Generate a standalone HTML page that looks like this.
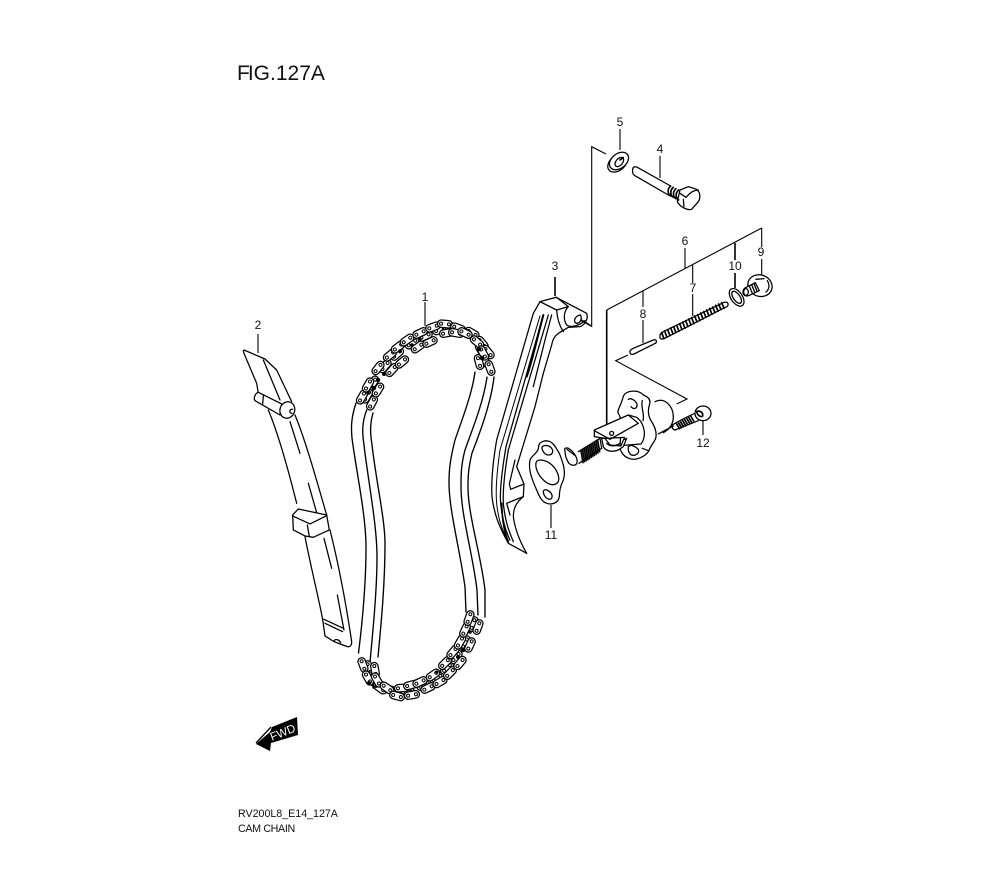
<!DOCTYPE html>
<html><head><meta charset="utf-8"><style>
html,body{margin:0;padding:0;background:#fff}
svg{display:block}
text{font-family:"Liberation Sans",sans-serif;fill:#111}
.l text{font-size:12px;text-anchor:middle}
.s{fill:none;stroke:#000;stroke-width:1.35;stroke-linecap:round;stroke-linejoin:round}
.z{fill:none;stroke:#000;stroke-width:3.8;stroke-linecap:round;stroke-linejoin:round}
.b{fill:#000}
</style></head><body>
<svg width="1000" height="880" viewBox="0 0 1000 880" xmlns="http://www.w3.org/2000/svg">
<defs>
<g id="k"><rect x="-7.5" y="-3.7" width="15" height="7.4" rx="3.7" fill="#fff" stroke="#000" stroke-width="1.25"/><circle cx="-4" cy="0" r="1.5" fill="#fff" stroke="#000" stroke-width="1"/><circle cx="4" cy="0" r="1.5" fill="#fff" stroke="#000" stroke-width="1"/></g>
</defs>
<rect width="1000" height="880" fill="#fff"/>

<text x="237" y="80" font-size="21"><tspan>F</tspan><tspan dx="-2">IG.127A</tspan></text>
<text x="238" y="817" font-size="10.7" letter-spacing="-.02">RV200L8_E14_127A</text>
<text x="238" y="832" font-size="10.7" letter-spacing="-.35">CAM CHAIN</text>

<!-- leaders -->
<g fill="none" stroke="#000" stroke-width="1.1">
<path d="M620 129V150M660 156V178M643 291V307M643 320V343M692.7 265V283M692.7 294V316M685 248V268M761.7 228V247M761.7 259V275M551 505V528M703 420V435M258 334V353M425 302V326"/>
<path d="M606.7 310L761.7 228M606 154L591.7 146.7V326.5L580 320"/>
<path d="M628 355L615.7 360.7L687 399L676.7 404"/>
<path stroke-width="1.6" d="M606.7 310V424M735 243V260M735 273V288M555 277V296"/>
</g>
<g class="l">
<text x="620" y="126">5</text><text x="660" y="153">4</text><text x="555" y="270">3</text>
<text x="685" y="245">6</text><text x="693" y="292">7</text><text x="643" y="318">8</text>
<text x="735" y="270">10</text><text x="761" y="256">9</text><text x="258" y="329">2</text>
<text x="425" y="301">1</text><text x="551" y="539">11</text><text x="703" y="447">12</text>
</g>

<!-- chain strands -->
<g class="s">
<path d="M356 403C351 418 351 428 352 438C356 470 366 515 366 547C366 585 362 625 358.5 653"/>
<path d="M366.7 410C362 422 362 432 364 445C368 480 377 525 377 557C377 590 373 630 370 662"/>
<path d="M373 413C370 424 370 432 372 445C376 480 385 520 385 543C385 585 381 625 378 657"/>
<path d="M475 372C472 395 460 425 455 440C450 460 449 470 449 483C449 510 460 550 465 587L466 612"/>
<path d="M487 377C483 405 470 435 465 450C461 465 461 475 461 487C461 515 473 555 477 590L478 615"/>
<path d="M494 377C491 405 477 440 472 453C468 470 468 478 468 487C468 515 481 555 485 590L485 617"/>
</g>

<!-- chain top -->
<g>
<use href="#k" transform="translate(367,396) rotate(-60)"/><use href="#k" transform="translate(373,383) rotate(-58)"/><use href="#k" transform="translate(385,366) rotate(-50)"/><use href="#k" transform="translate(397,354) rotate(-42)"/><use href="#k" transform="translate(412,343) rotate(-35)"/><use href="#k" transform="translate(425,336) rotate(-25)"/><use href="#k" transform="translate(440,330) rotate(-15)"/><use href="#k" transform="translate(451,329) rotate(5)"/><use href="#k" transform="translate(463,331) rotate(25)"/><use href="#k" transform="translate(474,337) rotate(38)"/><use href="#k" transform="translate(481,350) rotate(60)"/><use href="#k" transform="translate(485,360) rotate(68)"/>
<use href="#k" transform="translate(362,397) rotate(-60)"/><use href="#k" transform="translate(368,385) rotate(-60)"/><use href="#k" transform="translate(378,368) rotate(-52)"/><use href="#k" transform="translate(390,355) rotate(-40)"/><use href="#k" transform="translate(398,347) rotate(-38)"/><use href="#k" transform="translate(407,340) rotate(-35)"/><use href="#k" transform="translate(420,333) rotate(-25)"/><use href="#k" transform="translate(433,327) rotate(-20)"/><use href="#k" transform="translate(445,324) rotate(5)"/><use href="#k" transform="translate(458,328) rotate(20)"/><use href="#k" transform="translate(472,333) rotate(30)"/><use href="#k" transform="translate(482,343) rotate(50)"/><use href="#k" transform="translate(488,352) rotate(50)"/>
<use href="#k" transform="translate(372,403) rotate(-62)"/><use href="#k" transform="translate(378,390) rotate(-58)"/><use href="#k" transform="translate(392,370) rotate(-48)"/><use href="#k" transform="translate(402,362) rotate(-40)"/><use href="#k" transform="translate(418,347) rotate(-35)"/><use href="#k" transform="translate(430,342) rotate(-25)"/><use href="#k" transform="translate(447,333) rotate(-10)"/><use href="#k" transform="translate(456,333) rotate(10)"/><use href="#k" transform="translate(465,333) rotate(25)"/><use href="#k" transform="translate(477,342) rotate(40)"/><use href="#k" transform="translate(483,353) rotate(62)"/><use href="#k" transform="translate(479,362) rotate(75)"/><use href="#k" transform="translate(490,368) rotate(70)"/>
</g>
<g class="b">
<circle cx="378" cy="380" r="2.2"/><circle cx="384" cy="374" r="2"/><circle cx="374" cy="388" r="2.2"/><circle cx="400" cy="351" r="1.8"/><circle cx="412" cy="345" r="1.8"/><circle cx="479" cy="349" r="2.3"/><circle cx="482" cy="358" r="2.3"/><circle cx="368" cy="393" r="1.8"/><circle cx="420" cy="339" r="1.6"/>
</g>

<!-- chain bottom -->
<g>
<use href="#k" transform="translate(369,668) rotate(70)"/><use href="#k" transform="translate(372,679) rotate(60)"/><use href="#k" transform="translate(384,687) rotate(35)"/><use href="#k" transform="translate(394,691) rotate(20)"/><use href="#k" transform="translate(407,692) rotate(-5)"/><use href="#k" transform="translate(424,685) rotate(-25)"/><use href="#k" transform="translate(437,678) rotate(-32)"/><use href="#k" transform="translate(447,668) rotate(-45)"/><use href="#k" transform="translate(456,657) rotate(-50)"/><use href="#k" transform="translate(465,643) rotate(-62)"/><use href="#k" transform="translate(473,624) rotate(-70)"/>
<use href="#k" transform="translate(363,665) rotate(70)"/><use href="#k" transform="translate(368,678) rotate(60)"/><use href="#k" transform="translate(380,688) rotate(35)"/><use href="#k" transform="translate(402,688) rotate(-5)"/><use href="#k" transform="translate(411,685) rotate(-15)"/><use href="#k" transform="translate(420,682) rotate(-25)"/><use href="#k" transform="translate(433,675) rotate(-35)"/><use href="#k" transform="translate(445,663) rotate(-45)"/><use href="#k" transform="translate(453,652) rotate(-50)"/><use href="#k" transform="translate(460,642) rotate(-60)"/><use href="#k" transform="translate(465,630) rotate(-65)"/><use href="#k" transform="translate(469,618) rotate(-70)"/>
<use href="#k" transform="translate(375,670) rotate(80)"/><use href="#k" transform="translate(377,680) rotate(60)"/><use href="#k" transform="translate(387,688) rotate(35)"/><use href="#k" transform="translate(397,696) rotate(15)"/><use href="#k" transform="translate(412,695) rotate(-10)"/><use href="#k" transform="translate(428,688) rotate(-25)"/><use href="#k" transform="translate(440,682) rotate(-30)"/><use href="#k" transform="translate(450,673) rotate(-45)"/><use href="#k" transform="translate(460,663) rotate(-50)"/><use href="#k" transform="translate(470,645) rotate(-65)"/><use href="#k" transform="translate(478,627) rotate(-70)"/>
</g>
<g class="b">
<circle cx="369" cy="683" r="2"/><circle cx="374" cy="687" r="1.8"/><circle cx="463" cy="650" r="2.3"/><circle cx="458" cy="657" r="2"/><circle cx="470" cy="632" r="1.8"/><circle cx="437" cy="672" r="1.6"/>
</g>

<!-- guide 2 -->
<g transform="translate(230,330) scale(.3333)" class="z">
<path d="M42 60L105 87L140 120L185 215"/>
<path d="M40 62L42 70L80 160L85 190"/>
<path d="M100 90L150 210"/>
<path d="M115 240C140 300 170 400 200 520"/>
<path d="M180 275L210 370"/>
<path d="M195 255C230 340 265 470 290 555"/>
<path d="M235 460L262 555"/>
<path d="M300 600C320 680 345 800 365 935C366 945 360 952 352 950L312 935L285 918L278 868"/>
<path d="M225 620C240 700 265 800 278 868"/>
<path d="M282 625L305 715"/>
<path d="M322 795L342 900"/>
<path d="M282 868L340 895M285 880L338 905"/>
<path d="M312 932C318 925 328 930 332 938"/>
<path d="M188 555L205 537L290 555L298 600L250 622L225 618L190 600Z" style="fill:#fff"/>
<path d="M188 558L240 582L290 557M232 585L238 620"/>
<path d="M85 187L155 222L150 255L75 212C70 205 75 190 85 187Z" style="fill:#fff"/>
<path d="M100 197L98 222"/>
<ellipse cx="172" cy="240" rx="22" ry="25" transform="rotate(20 172 240)" style="fill:#fff"/>
<path d="M188 238C178 236 176 250 186 250"/>
</g>

<!-- guide 3 -->
<g transform="translate(480,290) scale(.3333)" class="z">
<path d="M228 22L180 35L160 70L50 450C38 520 33 570 36 620C42 670 55 705 85 760L140 790"/>
<path d="M228 22L320 70C326 85 315 105 300 110L265 112L235 130C222 140 218 150 215 165L190 250L165 350L110 530"/>
<path d="M190 75L78 470C68 530 58 600 62 640C66 680 75 720 90 750"/>
<path d="M205 75L85 480C75 540 68 600 70 640C75 690 85 720 100 755"/>
<path d="M180 78L60 480C50 550 46 600 50 640C54 680 62 710 80 745" stroke-width="3"/>
<path d="M190 75C170 150 155 220 140 260" stroke-width="6"/>
<path d="M215 75L195 150L160 290"/>
<path d="M110 530L132 582L92 598L88 582L105 510"/>
<path d="M132 582L130 620L100 632L80 640L90 675"/>
<path d="M130 620C105 640 100 660 100 680C105 720 120 755 140 790"/>
<path d="M65 640C66 680 70 720 85 755" stroke-width="5"/>
<path d="M180 35L230 60L265 50L230 22"/>
<path d="M230 60C232 90 240 110 250 125"/>
<path d="M265 50C250 65 250 90 260 105C275 115 300 105 315 92"/>
<path d="M302 75C292 75 282 85 284 95C290 105 302 98 304 85Z"/>
<path d="M305 90L330 105"/>
</g>

<!-- washer 5, bolt 4, spring 7, ring 10, bolt 9 -->
<g transform="translate(480,110) scale(.3333)" class="z">
<ellipse cx="412" cy="160" rx="32" ry="22" transform="rotate(-38 412 160)" style="fill:#fff"/>
<ellipse cx="417" cy="153" rx="32" ry="22" transform="rotate(-38 417 153)" style="fill:#fff"/>
<ellipse cx="418" cy="156" rx="16" ry="10" transform="rotate(-50 418 156)"/>
<path d="M430 143L420 150" stroke-width="5"/>
<path d="M472 172L572 228M458 180C456 192 462 196 470 200L565 255M472 172C462 168 458 172 458 180"/>
<path d="M600 240L625 230L650 238C662 248 662 265 655 275L635 298C620 302 600 290 592 275Z" style="fill:#fff"/>
<path d="M572 228C562 236 562 252 572 258M580 232C570 240 570 256 580 262M588 236C578 244 578 260 588 266M596 240C586 248 586 264 596 270" stroke-width="5"/>
<path d="M610 268L612 290M600 250L618 262C628 250 640 240 655 240"/>
<path d="M540 682C538 672 545 668 552 664L730 578C740 574 746 578 744 586C742 592 735 592 728 596L552 686C545 688 540 688 540 682Z" style="fill:#fff"/>
<path d="M545 668L552 686M554 663L561 682M563 659L570 677M572 654L579 672M581 650L588 668M590 646L597 664M599 641L606 659M608 636L615 655M617 632L624 650M626 627L633 645M635 623L642 641M644 618L651 636M653 614L660 632M662 609L669 627M671 605L678 622M680 600L687 618M689 595L696 613M698 591L705 608M707 586L714 604M716 582L723 599M725 578L732 595" stroke-width="5"/>
<ellipse cx="770" cy="562" rx="17" ry="30" transform="rotate(-35 770 562)"/>
<ellipse cx="770" cy="562" rx="10" ry="21" transform="rotate(-35 770 562)"/>
<ellipse cx="840" cy="527" rx="37" ry="32" transform="rotate(20 840 527)" style="fill:#fff"/>
<path d="M862 512C870 524 868 538 858 546M828 508L852 506"/>
<path d="M795 534L826 518L838 542L806 557C796 560 789 555 789 546C789 540 791 537 795 534Z" style="fill:#fff"/>
<path d="M808 528L817 550M815 524L824 546M822 521L831 543" stroke-width="4"/>
<ellipse cx="798" cy="546" rx="7" ry="10"/>
</g>

<!-- pin 8, gasket 11 -->
<g transform="translate(480,340) scale(.3333)" class="z">
<path d="M450 38C448 30 455 28 462 24L520 0C530 -3 532 6 526 10L462 42C456 44 452 44 450 38Z"/>
<path d="M176 320C176 305 198 298 212 306C225 314 228 325 238 340C250 370 258 395 250 420C240 440 238 455 238 470C235 490 215 495 200 490C185 485 178 470 170 450C152 410 145 385 150 360C155 345 175 340 176 320Z"/>
<path d="M186 325C184 315 205 312 215 325C222 335 216 345 206 345C195 345 188 335 186 325Z"/>
<path d="M168 368C172 355 195 360 210 370C230 385 240 410 235 425C225 440 205 435 190 420C175 405 165 385 168 368Z"/>
<path d="M190 455C190 445 205 450 212 458C220 468 216 478 208 478C198 476 190 465 190 455Z"/>
</g>

<!-- tensioner -->
<g transform="translate(555,380) scale(.3333)" class="z">
<path d="M300 65C330 50 355 80 355 110C355 135 340 150 325 158" />
<path d="M310 162L355 138"/>
<path d="M205 48C215 30 250 28 265 45C278 50 288 58 284 72C278 90 278 105 288 122C300 140 306 160 302 175C296 190 286 198 282 212C270 232 240 242 225 236C210 232 200 222 195 205C195 170 205 120 190 100C184 92 200 75 205 48Z" style="fill:#fff"/>
<path d="M220 58C228 52 242 62 246 72C248 86 236 90 228 80M262 62C256 82 270 100 264 122"/>
<path d="M220 200C228 192 242 200 250 208C254 218 245 226 235 226C225 226 218 215 220 200ZM262 205L280 212"/>
<path d="M118 150L220 105L245 112C270 130 275 170 258 192L205 196L208 172L150 175L118 170Z" style="fill:#fff"/>
<path d="M118 152L165 178L250 130L220 105"/>
<circle cx="170" cy="160" r="6"/>
<path d="M140 175L145 200C150 212 170 218 190 210L205 200L215 175L205 180L198 198L165 195L150 175Z" style="fill:#fff"/>
<path d="M155 190C165 200 180 200 195 190"/>
<path d="M70 215L135 175L140 205L72 250"/>
<path d="M78 212L84 248M83 209L89 245M88 206L94 242M93 203L99 239M98 200L104 236M103 197L109 232M108 194L114 229M113 191L119 226M118 188L124 222M123 185L129 219M128 182L134 215" stroke-width="5"/>
<path d="M30 212C25 205 35 200 45 208C60 220 68 235 66 248C64 258 50 258 42 250C35 240 30 225 30 212Z" style="fill:#fff"/>
<path d="M36 208L62 228"/>
<path d="M352 135C360 130 405 105 425 98M360 150L430 122"/>
<path d="M352 135C350 145 355 150 362 150"/>
<path d="M365 132L374 146M371 129L380 143M377 126L386 140M383 122L392 137M389 119L398 134M395 115L404 130M401 112L410 127M407 108L416 123" stroke-width="5"/>
<ellipse cx="444" cy="100" rx="24" ry="22" style="fill:#fff"/>
<path d="M425 95C435 90 445 98 443 108C438 112 428 108 425 95Z" stroke-width="5"/>
</g>

<!-- FWD arrow -->
<path d="M256 744L270 732L272 727L297 717L298 735L271 743L270 751Z" fill="#000"/>
<path d="M256 743L271 727" stroke="#000" stroke-width="1.3" fill="none"/>
<text transform="translate(272,741) rotate(-22)" font-size="11.5" style="fill:#fff">FWD</text>
</svg>
</body></html>
